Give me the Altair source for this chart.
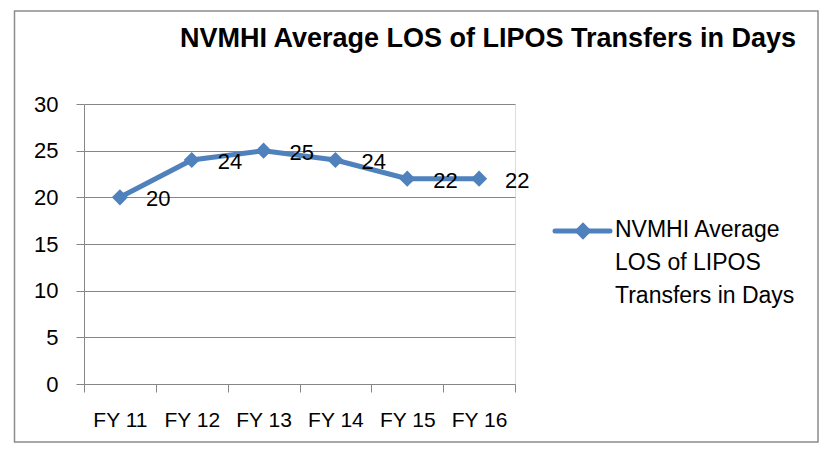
import altair as alt
import pandas as pd

title_text = "NVMHI Average LOS of LIPOS Transfers in Days"
categories = ["FY 11", "FY 12", "FY 13", "FY 14", "FY 15", "FY 16"]
values = [20, 24, 25, 24, 22, 22]
legend_lines = "NVMHI Average\nLOS of LIPOS\nTransfers in Days"
y_ticks = [0, 5, 10, 15, 20, 25, 30]

BLUE = "#4F81BD"
GRAY = "#868686"
FONT = "Liberation Sans"

df = pd.DataFrame({"cat": categories, "val": values})

x_enc = alt.X(
    "cat:N",
    sort=categories,
    bandPosition=0.5,
    scale=alt.Scale(type="band", paddingInner=0, paddingOuter=0),
    axis=alt.Axis(
        title=None, labelAngle=0, tickBand="extent", tickSize=8,
        labelPadding=17, labelFontSize=21, labelColor="#000000",
        domainColor=GRAY, tickColor=GRAY, grid=False, labelFont=FONT,
    ),
)
y_enc = alt.Y(
    "val:Q",
    scale=alt.Scale(domain=[0, 30], nice=False),
    axis=alt.Axis(
        title=None, values=y_ticks, tickSize=8, labelPadding=18,
        labelFontSize=22, labelColor="#000000", domainColor=GRAY,
        tickColor=GRAY, gridColor=GRAY, gridWidth=1, labelFont=FONT,
    ),
)

base = alt.Chart(df)
line = base.mark_line(color=BLUE, strokeWidth=5).encode(x=x_enc, y=y_enc)
pts = base.mark_point(shape="diamond", filled=True, size=260, color=BLUE, opacity=1).encode(x=x_enc, y=y_enc)
labels = base.mark_text(align="left", baseline="middle", dx=26, dy=2, fontSize=22, font=FONT, color="#000000").encode(
    x=x_enc, y=y_enc, text="val:Q"
)

one = pd.DataFrame({"t": [title_text]})
border = alt.Chart(one).mark_rect(fillOpacity=0, stroke="#8c8c8c", strokeWidth=1.5).encode(
    x=alt.value(-69.5), x2=alt.value(734), y=alt.value(-93), y2=alt.value(338)
)
title = alt.Chart(one).mark_text(fontSize=27, fontWeight="bold", font=FONT, align="center",
                                 baseline="alphabetic", color="#000000").encode(
    x=alt.value(404), y=alt.value(-57), text="t:N"
)

leg_df = pd.DataFrame({"t": [legend_lines]})
leg_line = alt.Chart(leg_df).mark_rule(color=BLUE, strokeWidth=5, strokeCap="round").encode(
    x=alt.value(471), x2=alt.value(526), y=alt.value(127)
)
leg_pt = alt.Chart(leg_df).mark_point(shape="diamond", filled=True, size=300, color=BLUE, opacity=1).encode(
    x=alt.value(499), y=alt.value(127)
)
leg_text = alt.Chart(leg_df).mark_text(align="left", baseline="alphabetic", lineBreak="\n", lineHeight=33,
                                       fontSize=23, font=FONT, color="#000000").encode(
    x=alt.value(531), y=alt.value(133), text="t:N"
)

chart = alt.layer(border, title, line, pts, labels, leg_line, leg_pt, leg_text).properties(
    width=431, height=280,
    autosize=alt.AutoSizeParams(type="none"),
    padding={"left": 76, "top": 96, "right": 304, "bottom": 59},
).configure_view(stroke=None).configure(font=FONT, background="#ffffff")

chart.save("out.html", embed_options={"renderer": "svg", "actions": False})
